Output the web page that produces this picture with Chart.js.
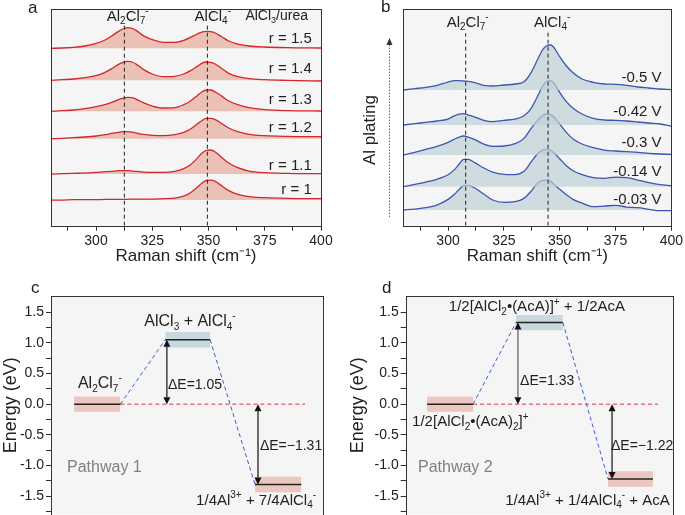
<!DOCTYPE html>
<html>
<head>
<meta charset="utf-8">
<script src="https://cdn.jsdelivr.net/npm/chart.js@4.4.0/dist/chart.umd.min.js"></script>
<style>
  html, body { margin: 0; padding: 0; background: #fff; overflow: hidden; width: 685px; height: 515px; }
  body { position: relative; }
  canvas { position: absolute; }
</style>
</head>
<body>
<canvas id="chartA" width="342" height="270" style="left:0;top:0"></canvas>
<canvas id="chartB" width="343" height="270" style="left:342px;top:0"></canvas>
<canvas id="chartC" width="342" height="250" style="left:0;top:275px"></canvas>
<canvas id="chartD" width="343" height="250" style="left:342px;top:275px"></canvas>
<script>
// ---- panel a : Raman spectra vs AlCl3/urea ratio (offset, a.u.) ----
const shiftA = [280, 285, 290, 295, 300, 304, 307, 310, 312, 314, 316, 318, 321, 325, 330, 335, 339, 342, 345, 347, 349, 351, 353, 356, 359, 363, 368, 375, 385, 400];
const ratioLabels = ['r = 1.5', 'r = 1.4', 'r = 1.3', 'r = 1.2', 'r = 1.1', 'r = 1'];
const ratioOffsets = [532, 436, 343, 261, 155, 77];
const intR15 = [0, 1, 3, 7, 15, 25, 37, 51, 58, 62, 60, 53, 38, 26, 18, 18, 24, 33, 43, 49, 51, 50, 46, 34, 22, 13, 7, 4, 2, 1];
const intR14 = [0, 2, 4, 8, 14, 24, 35, 48, 54, 57, 55, 48, 33, 19, 11, 12, 19, 29, 42, 51, 55, 54, 49, 35, 21, 11, 5, 2, 0, -2];
const intR13 = [0, 2, 4, 8, 14, 20, 27, 35, 40, 42, 41, 36, 26, 16, 10, 11, 20, 31, 47, 58, 64, 64, 58, 45, 31, 20, 11, 5, 2, 1];
const intR12 = [0, 1, 3, 5, 8, 12, 16, 19, 21, 21, 20, 17, 13, 10, 9, 12, 19, 29, 44, 54, 61, 61, 57, 45, 32, 21, 13, 9, 7, 6];
const intR11 = [0, 1, 2, 3, 5, 7, 8, 10, 10, 10, 9, 8, 6, 5, 5, 8, 16, 28, 47, 62, 71, 72, 66, 49, 33, 19, 9, 4, 2, 1];
const intR10 = [0, 0, 1, 1, 1, 2, 2, 2, 2, 2, 3, 3, 3, 3, 4, 6, 12, 22, 38, 50, 59, 60, 56, 42, 28, 17, 10, 7, 5, 4];
const peaksA = [312.6, 349.5];

// ---- panel b : Raman spectra during Al plating ----
const shiftB = [280, 285, 290, 295, 300, 303, 305, 307, 309, 312, 316, 320, 325, 330, 334, 337, 340, 342, 344, 346, 348, 350, 353, 356, 360, 365, 370, 375, 380, 385, 390, 395, 400];
const potentialLabels = ['-0.5 V', '-0.42 V', '-0.3 V', '-0.14 V', '-0.03 V'];
const potentialOffsets = [407, 302, 212, 117, 47];
const intV050 = [0, 4, 8, 14, 24, 28, 28, 27, 26, 22, 14, 12, 15, 18, 25, 50, 90, 117, 132, 135, 122, 100, 72, 52, 33, 23, 18, 17, 14, 9, 6, 3, 1];
const intV042 = [0, 4, 8, 12, 18, 28, 33, 34, 30, 24, 14, 10, 14, 18, 28, 48, 85, 112, 130, 133, 120, 98, 70, 50, 33, 20, 15, 14, 12, 9, 6, 3, -3];
const intV030 = [0, 8, 17, 26, 38, 48, 54, 57, 54, 46, 33, 26, 27, 34, 50, 78, 103, 116, 123, 121, 110, 93, 68, 48, 33, 22, 15, 12, 10, 8, 5, 3, 2];
const intV014 = [0, 7, 14, 22, 36, 52, 68, 82, 82, 72, 56, 44, 37, 36, 46, 72, 98, 108, 112, 109, 98, 84, 63, 48, 36, 27, 25, 29, 27, 20, 12, 6, 3];
const intV003 = [0, 3, 7, 15, 32, 48, 62, 73, 74, 66, 48, 30, 23, 25, 35, 55, 80, 88, 90, 86, 74, 62, 46, 32, 21, 10, 12, 14, 9, 7, 2, -2, -2];
const peaksB = [307.9, 344.8];
const shiftTicks = [287.5, 300, 312.5, 325, 337.5, 350, 362.5, 375, 387.5, 400];

// ---- panels c, d : energy diagrams (eV) ----
const energyTicks = [-1.75, -1.5, -1.25, -1, -0.75, -0.5, -0.25, 0, 0.25, 0.5, 0.75, 1, 1.25, 1.5];
const levelsC = [0, 1.05, -1.31];
const spansC = [[0.85, 2.55], [4.2, 5.85], [7.5, 9.2]];
const levelsD = [0, 1.33, -1.22];
const spansD = [[0.8, 2.52], [4.13, 5.88], [7.57, 9.25]];

const FONT = "'Liberation Sans', Arial, Helvetica, sans-serif";
Chart.defaults.font.family = FONT;
Chart.defaults.color = '#222';
Chart.defaults.animation = false;
Chart.defaults.plugins.legend.display = false;
Chart.defaults.plugins.tooltip.enabled = false;

// text with _{sub} and ^{sup}
function richText(ctx, str, x, y, align, size, color) {
  const parts = [];
  const re = /([_^])\{([^}]*)\}|([^_^]+)/g;
  let m;
  while ((m = re.exec(str))) {
    if (m[3]) parts.push({ t: m[3], k: 0 });
    else parts.push({ t: m[2], k: m[1] === '_' ? 1 : -1 });
  }
  const small = Math.round(size * 0.65);
  const fontFor = k => (k ? small : size) + 'px ' + FONT;
  let w = 0;
  parts.forEach(p => { ctx.font = fontFor(p.k); p.w = ctx.measureText(p.t).width; w += p.w; });
  let cx = align === 'center' ? x - w / 2 : align === 'right' ? x - w : x;
  ctx.save();
  ctx.fillStyle = color || '#222';
  ctx.textBaseline = 'middle';
  ctx.textAlign = 'left';
  parts.forEach(p => {
    ctx.font = fontFor(p.k);
    ctx.fillText(p.t, cx, y + p.k * size * 0.33);
    cx += p.w;
  });
  ctx.restore();
}

// plot background, frame and labels
function decor(notes, extra) {
  return {
    id: 'decor',
    beforeDraw(c) {
      const a = c.chartArea, g = c.ctx;
      g.save();
      g.fillStyle = '#f5f5f5';
      g.fillRect(a.left, a.top, a.right - a.left, a.bottom - a.top);
      g.restore();
    },
    afterDraw(c) {
      const a = c.chartArea, g = c.ctx;
      g.save();
      g.strokeStyle = '#333';
      g.lineWidth = 1;
      g.strokeRect(Math.round(a.left) + 0.5, Math.round(a.top) + 0.5, Math.round(a.right - a.left), Math.round(a.bottom - a.top));
      g.restore();
      notes.forEach(n => {
        const px = n.abs ? n.x : c.scales.x.getPixelForValue(n.x);
        const py = n.abs ? n.y : c.scales.y.getPixelForValue(n.y);
        richText(g, n.text, px, py, n.align || 'left', n.size || 15, n.color);
      });
      if (extra) extra(c, g);
    }
  };
}

function dashedPeak(x, top) {
  return { data: [{ x, y: 0 }, { x, y: top }], borderColor: '#222', borderWidth: 1, borderDash: [4, 3], pointRadius: 0, fill: false, order: 0 };
}

function spectrum(xs, arr, off, line, area) {
  return {
    data: xs.map((x, i) => ({ x, y: off + arr[i] })),
    borderColor: line, borderWidth: 1.3, backgroundColor: area,
    fill: { value: off }, pointRadius: 0, cubicInterpolationMode: 'monotone', order: 1
  };
}

function spectrumOptions(padLeft, padRight) {
  return {
    responsive: false,
    layout: { padding: { left: padLeft, top: 9, right: padRight, bottom: 3.8 } },
    scales: {
      x: {
        type: 'linear', min: 280, max: 400,
        afterBuildTicks: s => { s.ticks = shiftTicks.map(v => ({ value: v })); },
        afterFit: s => { s.height = 40.5; },
        ticks: { font: { size: 14 }, color: '#222', padding: 2, maxRotation: 0, autoSkip: false,
                 callback: v => (v % 25 === 0 ? v : '') },
        grid: { drawOnChartArea: false, tickLength: 5, color: '#333' },
        border: { display: false },
        title: { display: true, text: 'Raman shift (cm⁻¹)', font: { size: 17 }, color: '#222', padding: { top: 0, bottom: 0 } }
      },
      y: { display: false, min: 0, max: 650 }
    }
  };
}

// ---- chart a ----
const seriesA = [intR15, intR14, intR13, intR12, intR11, intR10];
const labelYA = [560, 470, 377, 292, 180, 107];
new Chart(document.getElementById('chartA'), {
  type: 'line',
  data: {
    datasets: [
      dashedPeak(peaksA[0], 600), dashedPeak(peaksA[1], 602),
      ...seriesA.map((arr, k) => spectrum(shiftA, arr, ratioOffsets[k], '#d3262d', 'rgba(225,150,130,0.55)'))
    ]
  },
  options: spectrumOptions(51, 21),
  plugins: [decor([
    { x: 314.1, y: 627, text: 'Al_{2}Cl_{7}^{-}', align: 'center', size: 15 },
    { x: 351.9, y: 627, text: 'AlCl_{4}^{-}', align: 'center', size: 15 },
    { x: 380.3, y: 630, text: 'AlCl_{3}/urea', align: 'center', size: 14 },
    ...ratioLabels.map((t, k) => ({ x: 395.9, y: labelYA[k], text: t, align: 'right', size: 15 })),
    { abs: true, x: 28, y: 8, text: 'a', size: 17 }
  ])]
});

// ---- chart b ----
const seriesB = [intV050, intV042, intV030, intV014, intV003];
const labelYB = [444, 340, 249, 162, 79];
new Chart(document.getElementById('chartB'), {
  type: 'line',
  data: {
    datasets: [
      dashedPeak(peaksB[0], 577), dashedPeak(peaksB[1], 582),
      ...seriesB.map((arr, k) => spectrum(shiftB, arr, potentialOffsets[k], '#3d55b3', 'rgba(190,208,214,0.7)'))
    ]
  },
  options: spectrumOptions(61.4, 12),
  plugins: [decor([
    { x: 308.8, y: 609, text: 'Al_{2}Cl_{7}^{-}', align: 'center', size: 15 },
    { x: 346.6, y: 609, text: 'AlCl_{4}^{-}', align: 'center', size: 15 },
    ...potentialLabels.map((t, k) => ({ x: 395.6, y: labelYB[k], text: t, align: 'right', size: 15 })),
    { abs: true, x: 39, y: 7, text: 'b', size: 17 }
  ], (c, g) => {
    g.save();
    g.translate(28, 130);
    g.rotate(-Math.PI / 2);
    g.font = '17px ' + FONT;
    g.fillStyle = '#222';
    g.textAlign = 'center';
    g.textBaseline = 'middle';
    g.fillText('Al plating', 0, 0);
    g.restore();
    g.save();
    g.strokeStyle = '#666';
    g.fillStyle = '#333';
    g.lineWidth = 1;
    g.setLineDash([1.5, 1.5]);
    g.beginPath(); g.moveTo(47.5, 217); g.lineTo(47.5, 44); g.stroke();
    g.setLineDash([]);
    g.beginPath(); g.moveTo(47.5, 38); g.lineTo(44.5, 45); g.lineTo(50.5, 45); g.closePath(); g.fill();
    g.restore();
  })]
});

// ---- energy diagrams ----
function drawArrow(g, x, y0, y1, color) {
  const dir = y1 < y0 ? -1 : 1;
  const hl = 7, hw = 3.5;
  g.save();
  g.strokeStyle = color;
  g.fillStyle = '#111';
  g.lineWidth = 1.3;
  g.beginPath(); g.moveTo(x, y0 + dir * hl); g.lineTo(x, y1 - dir * hl); g.stroke();
  g.beginPath(); g.moveTo(x, y1); g.lineTo(x - hw, y1 - dir * hl); g.lineTo(x + hw, y1 - dir * hl); g.closePath(); g.fill();
  g.beginPath(); g.moveTo(x, y0); g.lineTo(x - hw, y0 + dir * hl); g.lineTo(x + hw, y0 + dir * hl); g.closePath(); g.fill();
  g.restore();
}

function energyChart(id, levels, spans, zeroEnd, arrows, notes, padLeft, padRight, yWidth) {
  const half = 0.125;
  const boxColors = ['rgba(228,160,145,0.55)', 'rgba(190,208,216,0.8)', 'rgba(228,160,145,0.55)'];
  const sets = [];
  levels.forEach((e, i) => {
    sets.push({ data: [{ x: spans[i][0], y: e + half }, { x: spans[i][1], y: e + half }], fill: { value: e - half },
                backgroundColor: boxColors[i], borderWidth: 0, pointRadius: 0, order: 3 });
    sets.push({ data: [{ x: spans[i][0], y: e }, { x: spans[i][1], y: e }], borderColor: '#222', borderWidth: 1.5,
                pointRadius: 0, fill: false, order: 1 });
    if (i < levels.length - 1) {
      sets.push({ data: [{ x: spans[i][1], y: e }, { x: spans[i + 1][0], y: levels[i + 1] }], borderColor: '#3b5bd6',
                  borderWidth: 1, borderDash: [4, 3], pointRadius: 0, fill: false, order: 2 });
    }
  });
  sets.push({ data: [{ x: spans[0][1], y: 0 }, { x: zeroEnd, y: 0 }], borderColor: '#e0303c', borderWidth: 1,
              borderDash: [4, 3], pointRadius: 0, fill: false, order: 2 });
  return new Chart(document.getElementById(id), {
    type: 'line',
    data: { datasets: sets },
    options: {
      responsive: false,
      layout: { padding: { left: padLeft, top: 21, right: padRight, bottom: 8.3 } },
      scales: {
        x: { type: 'linear', min: 0, max: 10, display: false },
        y: {
          min: -1.8, max: 1.763,
          afterBuildTicks: s => { s.ticks = energyTicks.map(v => ({ value: v })); },
          afterFit: s => { s.width = yWidth; },
          ticks: { font: { size: 14 }, color: '#222', padding: 2, autoSkip: false,
                   callback: v => (Math.abs(v * 2 - Math.round(v * 2)) < 1e-6 ? v.toFixed(1) : '') },
          grid: { drawOnChartArea: false, tickLength: 5, color: '#333' },
          border: { display: false },
          title: { display: true, text: 'Energy (eV)', font: { size: 18 }, color: '#222', padding: { top: 0, bottom: 0 } }
        }
      }
    },
    plugins: [decor(notes, (c, g) => {
      arrows.forEach(a => {
        drawArrow(g, c.scales.x.getPixelForValue(a.x), c.scales.y.getPixelForValue(0), c.scales.y.getPixelForValue(a.to), a.color);
      });
    })]
  });
}

energyChart('chartC', levelsC, spansC, 9.34,
  [{ x: 4.26, to: levelsC[1], color: '#222' }, { x: 7.61, to: levelsC[2], color: '#222' }],
  [
    { x: 0.99, y: 0.33, text: 'Al_{2}Cl_{7}^{-}', size: 16 },
    { x: 5.11, y: 1.34, text: 'AlCl_{3} + AlCl_{4}^{-}', align: 'center', size: 16 },
    { x: 4.3, y: 0.31, text: 'ΔE=1.05', size: 14 },
    { x: 7.68, y: -0.69, text: 'ΔE=−1.31', size: 14 },
    { x: 0.59, y: -1.03, text: 'Pathway 1', size: 16, color: '#808080' },
    { x: 7.54, y: -1.57, text: '1/4Al^{3+} + 7/4AlCl_{4}^{-}', align: 'center', size: 15 },
    { abs: true, x: 31, y: 13, text: 'c', size: 17 }
  ], 0, 19, 51);

energyChart('chartD', levelsD, spansD, 9.44,
  [{ x: 4.2, to: levelsD[1], color: '#666' }, { x: 7.72, to: levelsD[2], color: '#222' }],
  [
    { x: 4.91, y: 1.58, text: '1/2[AlCl_{2}•(AcA)]^{+} + 1/2AcA', align: 'center', size: 15 },
    { x: 0.24, y: -0.29, text: '1/2[AlCl_{2}•(AcA)_{2}]^{+}', size: 15 },
    { x: 4.28, y: 0.38, text: 'ΔE=1.33', size: 14 },
    { x: 7.68, y: -0.69, text: 'ΔE=−1.22', size: 14 },
    { x: 0.46, y: -1.04, text: 'Pathway 2', size: 16, color: '#808080' },
    { x: 6.8, y: -1.57, text: '1/4Al^{3+} + 1/4AlCl_{4}^{-} + AcA', align: 'center', size: 15 },
    { abs: true, x: 40, y: 13, text: 'd', size: 17 }
  ], 5.2, 12, 58.5);
</script>
</body>
</html>
